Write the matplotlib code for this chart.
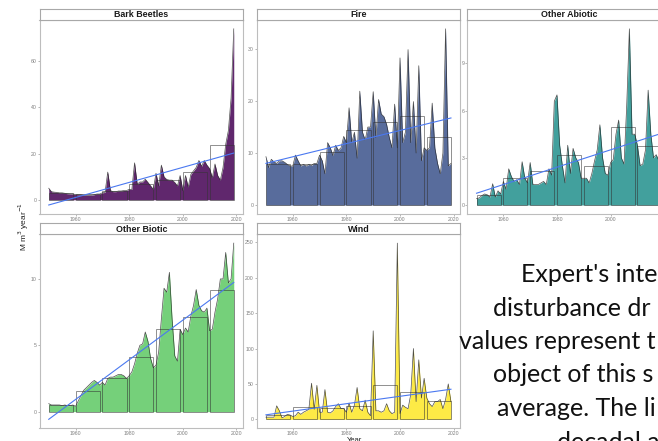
import numpy as np
import matplotlib.pyplot as plt
from matplotlib.patches import Rectangle

plt.rcParams['font.family'] = ['Liberation Sans', 'DejaVu Sans']

years = np.arange(1950, 2020)
decades = np.arange(1950, 2020, 10)

# annual values, M m3 / year, 1950-2019
bark_beetles = [5.0, 3.5, 3.3, 3.2, 3.0, 3.0, 2.8, 2.6, 2.5, 2.5,
                2.3, 2.2, 2.2, 2.0, 2.0, 2.0, 2.0, 2.2, 2.5, 2.5,
                3.0, 3.2, 12.0, 4.0, 3.5, 3.5, 3.8, 3.8, 4.0, 4.0,
                4.5, 4.5, 16.0, 6.7, 7.7, 7.7, 8.9, 7.5, 6.0, 4.5,
                11.5, 6.0, 15.0, 9.9, 8.8, 8.5, 8.5, 7.5, 6.0, 10.5,
                4.0, 10.5, 5.5, 11.0, 12.5, 14.0, 17.0, 14.5, 17.0, 15.0,
                13.5, 9.5, 15.5, 10.5, 8.5, 14.0, 24.0, 30.0, 44.0, 74.0]
fire = [9.3, 7.2, 8.8, 8.3, 8.0, 8.5, 8.5, 8.2, 7.8, 7.5,
        7.5, 9.6, 8.5, 7.5, 7.8, 7.5, 7.8, 7.6, 8.0, 8.0,
        9.6, 8.5, 6.0, 12.0, 11.0, 9.5, 11.5, 10.5, 11.0, 13.2,
        12.0, 18.7, 12.0, 14.0, 9.0, 21.9, 14.0, 12.5, 15.0, 15.0,
        21.8, 13.0, 20.3, 17.5, 17.0, 15.5, 13.0, 11.0, 19.4, 11.0,
        28.3, 12.0, 14.0, 29.9, 12.0, 19.9, 10.0, 26.8, 8.5, 11.0,
        10.5, 11.0, 19.6, 11.0, 8.0, 6.0, 10.0, 33.9, 7.5, 8.0]
other_abiotic = [0.4, 0.45, 0.6, 0.7, 0.65, 0.5, 1.35, 0.5, 0.9, 0.7,
                 1.5, 1.0, 2.3, 1.8, 1.5, 1.6, 1.3, 2.75, 1.7, 1.4,
                 2.7, 1.3, 1.3, 1.3, 1.4, 1.5, 1.3, 2.3, 1.9, 6.6,
                 7.0, 3.8, 2.5, 1.4, 3.8, 2.0, 3.6, 3.0, 2.7, 1.7,
                 1.7, 1.7, 1.4, 2.0, 2.8, 3.5, 5.1, 3.0, 2.0, 1.9,
                 2.7, 2.9, 4.5, 5.4, 3.0, 2.6, 6.3, 11.2, 4.5, 4.5,
                 3.8, 2.5, 2.6, 3.5, 7.3, 4.5, 3.0, 3.2, 2.8, 3.0]
other_biotic = [0.6, 0.5, 0.5, 0.5, 0.5, 0.45, 0.5, 0.45, 0.45, 0.5,
                0.4, 0.8, 1.2, 1.6, 1.8, 2.0, 2.2, 2.35, 2.2, 2.0,
                2.2, 2.0, 2.5, 2.6, 2.6, 2.7, 2.8, 2.8, 2.7, 2.5,
                2.7, 3.0, 3.6, 4.4, 5.0, 5.1, 6.0, 5.3, 4.0, 3.3,
                3.5, 4.5, 7.0, 9.3, 9.0, 10.5, 7.0, 4.2, 3.8, 6.2,
                5.8, 6.3, 6.0, 7.2, 8.0, 9.2, 8.0, 7.6, 7.5, 7.8,
                6.1, 6.2, 7.5, 8.5, 10.0, 10.0, 12.0, 9.7, 10.0, 12.7]
wind = [3, 3, 3, 3, 19, 12, 2, 4, 7, 6,
        4, 5, 10, 7, 10, 12, 14, 51, 14, 48,
        10, 10, 42, 10, 9, 12, 18, 22, 15, 15,
        10, 23, 10, 20, 45, 15, 12, 27, 10, 5,
        125, 12, 12, 10, 12, 22, 12, 8, 10, 249,
        8, 20, 17, 15, 35, 100, 25, 84, 30, 58,
        30, 22, 18, 25, 25, 28, 15, 28, 50, 25]

# decadal averages (the boxes)
bark_beetles_dec = [3.0, 2.3, 4.0, 7.0, 8.7, 12.2, 23.7]
fire_dec = [7.9, 7.9, 10.2, 14.5, 16.0, 17.1, 13.1]
other_abiotic_dec = [0.66, 1.74, 2.15, 3.2, 2.45, 4.96, 3.74]
other_biotic_dec = [0.5, 1.57, 2.5, 4.14, 6.2, 7.12, 9.17]
wind_dec = [6.5, 17.0, 15.6, 18.9, 48.0, 38.0, 26.0]

names = ["Bark Beetles", "Fire", "Other Abiotic", "Other Biotic", "Wind"]
series = [bark_beetles, fire, other_abiotic, other_biotic, wind]
dec_means = [bark_beetles_dec, fire_dec, other_abiotic_dec, other_biotic_dec, wind_dec]
yticks = [[0, 20, 40, 60], [0, 10, 20, 30], [0, 3, 6, 9], [0, 5, 10],
          [0, 50, 100, 150, 200, 250]]
colours = ["#440154", "#3B528B", "#21908C", "#5DC863", "#FDE725"]

W, H = 658, 441
fig = plt.figure(figsize=(W / 100, H / 100), dpi=100)

# panel boxes in pixels: left, top
lefts = [39.5, 256.7, 467.3, 39.5, 256.7]
tops = [20, 20, 20, 234.3, 234.3]
pw, ph = 203.5, 193.8
strip_h = 11.3

for i in range(5):
    l, t = lefts[i], tops[i]
    ax = fig.add_axes([l / W, 1 - (t + ph) / H, pw / W, ph / H])
    y = np.array(series[i], dtype=float)
    ax.fill_between(years, 0, y, color=colours[i], alpha=0.85, lw=0)
    ax.plot(years, y, color="#222222", lw=0.5, alpha=0.8)
    for d, m in zip(decades, dec_means[i]):
        ax.add_patch(Rectangle((d, 0), 9, m, fill=False,
                               edgecolor=(0.2, 0.2, 0.2, 0.55), lw=0.7))
    slope, icpt = np.polyfit(years, y, 1)
    trend = icpt + slope * years
    ax.plot(years, trend, color="#4a78f0", lw=0.8)

    lo = min(0, trend.min())
    hi = max(y.max(), trend.max())
    pad = 0.05 * (hi - lo)
    ax.set_ylim(lo - pad, hi + pad)
    ax.set_xlim(1950 - 3.45, 2019 + 3.45)
    ax.set_xticks([1960, 1980, 2000, 2020])
    ax.set_yticks(yticks[i])
    ax.tick_params(labelsize=3.7, colors="#999999", labelcolor="#7f7f7f",
                   length=1.3, width=0.5, pad=0.8)
    for sp in ax.spines.values():
        sp.set_color("#bdbdbd")
        sp.set_linewidth(0.8)

    sax = fig.add_axes([l / W, 1 - t / H, pw / W, strip_h / H])
    sax.set_xticks([])
    sax.set_yticks([])
    for sp in sax.spines.values():
        sp.set_color("#a8a8a8")
        sp.set_linewidth(0.8)
    sax.text(0.5, 0.45, names[i], transform=sax.transAxes, ha="center",
             va="center", fontsize=6.4, fontweight="bold", color="#1a1a1a")

fig.text(23.5 / W, 1 - 226 / H, r"M m$^3$ year$^{-1}$", rotation=90,
         ha="center", va="center", fontsize=6, color="#222222")
fig.text(355 / W, 1 - 436.5 / H, "Year", ha="center", va="top",
         fontsize=5.5, color="#222222")

# slide caption sitting over the empty facet slot (cut at the right edge)
caption = ["Expert's inte", "disturbance dr", "values represent t",
           "object of this s", "average. The li", "decadal a"]
cap_x = [521, 493.3, 459.3, 493.3, 496.7, 557]
cap_base = [281.7, 315.5, 349, 382.5, 416, 449.5]
for txt, cx, cb in zip(caption, cap_x, cap_base):
    fig.text(cx / W, 1 - cb / H, txt, ha="left", va="baseline",
             fontsize=18, family=["Lato", "DejaVu Sans"], color="#111111")

fig.savefig("out.png", dpi=100)
